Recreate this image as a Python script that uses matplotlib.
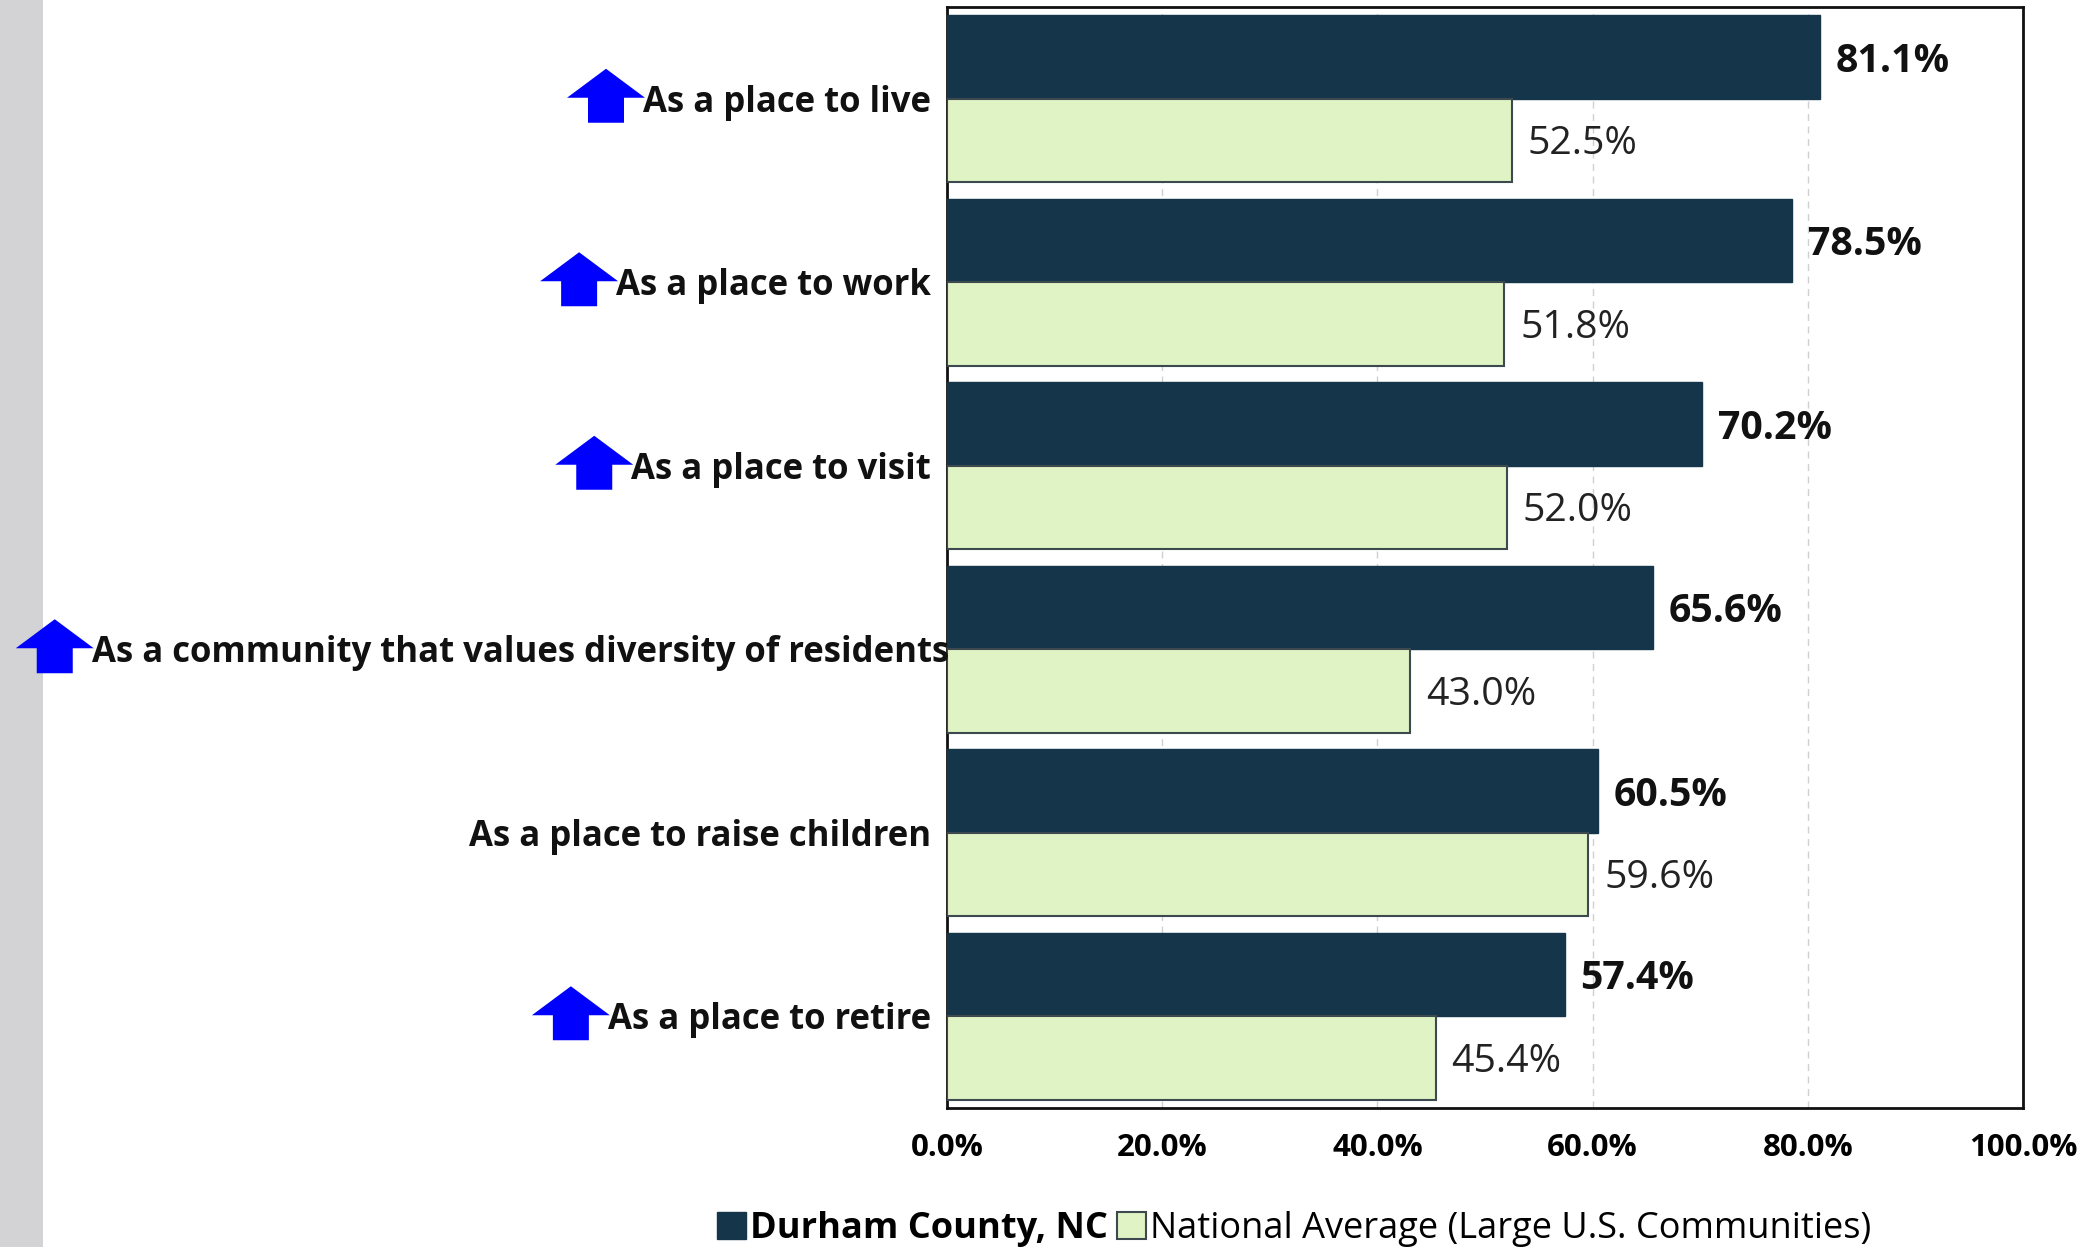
import numpy as np
import matplotlib
matplotlib.use("Agg")
import matplotlib.pyplot as plt
from matplotlib.patches import Polygon, Rectangle

plt.rcParams['font.family'] = ['Open Sans', 'DejaVu Sans']

categories = ["As a place to live", "As a place to work", "As a place to visit",
              "As a community that values diversity of residents",
              "As a place to raise children", "As a place to retire"]
durham = [81.1, 78.5, 70.2, 65.6, 60.5, 57.4]
national = [52.5, 51.8, 52.0, 43.0, 59.6, 45.4]
arrow_up = [True, True, True, True, False, True]
xticks = [0, 20, 40, 60, 80, 100]

dark = "#15364a"
light = "#e0f3c4"

W, H = 2088, 1247
fig = plt.figure(figsize=(W / 100, H / 100), dpi=100)
fig.patch.set_facecolor("white")
# grey strip on the left
fig.add_artist(Rectangle((0, 0), 43 / W, 1, transform=fig.transFigure,
                         facecolor="#d3d3d5", edgecolor="none"))

ax = fig.add_axes([947 / W, 1 - 1108 / H, (2023 - 947) / W, (1108 - 7) / H])
y = np.arange(len(categories))
h = 0.455
ax.barh(y - h / 2, durham, height=h, color=dark, edgecolor=dark, linewidth=1, zorder=3)
ax.barh(y + h / 2, national, height=h, color=light, edgecolor="#3c4a50", linewidth=1.5, zorder=3)
ax.set_xlim(0, 100)
ax.set_ylim(len(categories) - 0.5, -0.5)
ax.set_yticks([])
ax.set_xticks(xticks)
ax.set_xticklabels([f"{t:.1f}%" for t in xticks], fontsize=22.5, fontweight="bold")
ax.tick_params(axis="x", length=0, pad=18)
ax.grid(axis="x", color="#d0d0d0", linestyle=(0, (5, 4)), linewidth=1, zorder=0)
for s in ax.spines.values():
    s.set_linewidth(2)
    s.set_color("#111111")

for i in range(len(categories)):
    ax.annotate(f"{durham[i]:.1f}%", (durham[i], i - h / 2), xytext=(16, -4),
                textcoords="offset pixels", va="center", ha="left",
                fontsize=28.3, fontweight="bold", color="#111111")
    ax.annotate(f"{national[i]:.1f}%", (national[i], i + h / 2), xytext=(16, -4),
                textcoords="offset pixels", va="center", ha="left",
                fontsize=28.3, color="#222222")

labels = []
for i, c in enumerate(categories):
    dx = 2 if i == 3 else -16
    t = ax.annotate(c, (0, i), xytext=(dx, -4), textcoords="offset pixels",
                    xycoords=("axes fraction", "data"), ha="right", va="center",
                    fontsize=25, fontweight="bold", color="#111111", zorder=5)
    labels.append(t)

fig.canvas.draw()
r = fig.canvas.get_renderer()
aw, ah, hh, sw = 78, 54, 29, 36
for t, up in zip(labels, arrow_up):
    if not up:
        continue
    bb = t.get_window_extent(r)
    xr = bb.x0 + 2
    cy = (bb.y0 + bb.y1) / 2 + 2
    yb = cy - 22
    xc = xr - aw / 2
    pts = [(xc - sw / 2, yb), (xc + sw / 2, yb), (xc + sw / 2, yb + ah - hh),
           (xr, yb + ah - hh), (xc, yb + ah), (xr - aw, yb + ah - hh),
           (xc - sw / 2, yb + ah - hh)]
    pts = [(px / W, py / H) for px, py in pts]
    fig.add_artist(Polygon(pts, closed=True, transform=fig.transFigure,
                           facecolor="#0000ff", edgecolor="none", zorder=6))

hd = Rectangle((0, 0), 1, 1, facecolor=dark, edgecolor=dark)
hl = Rectangle((0, 0), 1, 1, facecolor=light, edgecolor="#3c4a50", linewidth=1.5)
leg = fig.legend([hd, hl], ["Durham County, NC", "National Average (Large U.S. Communities)"],
                 loc="center", bbox_to_anchor=(1294 / W, 18 / H), ncol=2, frameon=False,
                 fontsize=26, handlelength=0.8, handleheight=0.8, handletextpad=0.12,
                 columnspacing=0.25)
leg.get_texts()[0].set_fontweight("bold")

fig.savefig("out.png", dpi=100)
